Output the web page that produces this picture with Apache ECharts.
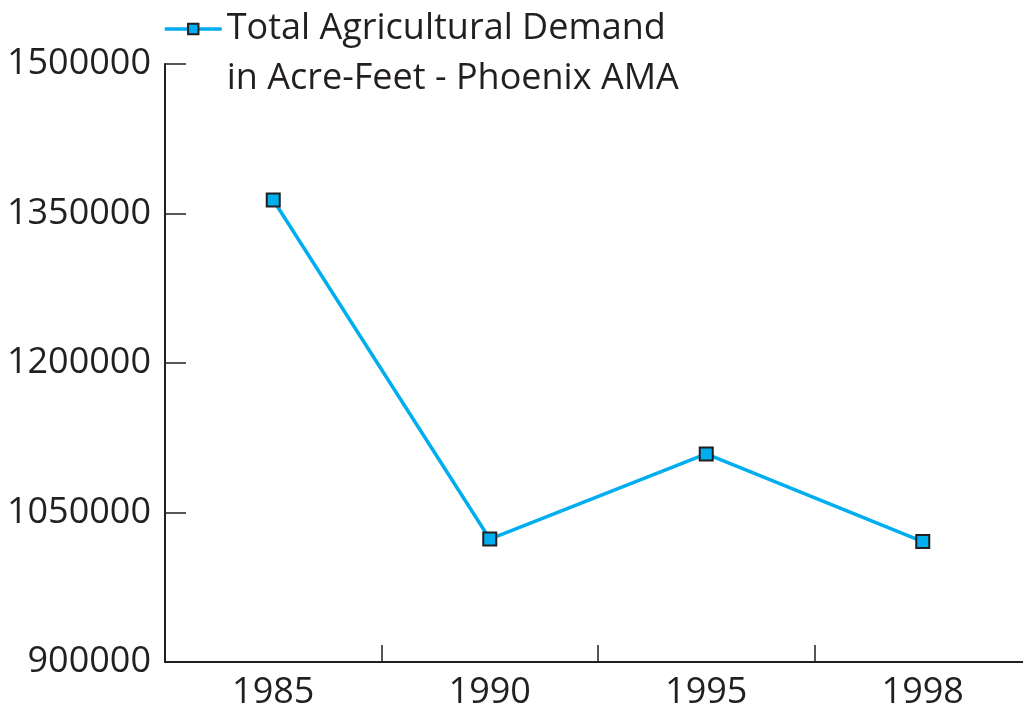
<!DOCTYPE html>
<html>
<head>
<meta charset="utf-8">
<script src="https://cdn.jsdelivr.net/npm/echarts@6/dist/echarts.min.js"></script>
<style>
  html, body { margin: 0; padding: 0; background: #fff; }
  #chart { width: 1023px; height: 706px; }
</style>
</head>
<body>
<div id="chart"></div>
<script>
// data
const years = ['1985', '1990', '1995', '1998']
const demand = [1363500, 1023400, 1108700, 1020900]
const seriesName = 'Total Agricultural Demand\nin Acre-Feet - Phoenix AMA'

const ink = '#231f20'
const cyan = '#00aeef'
const font = 'Open Sans'

const chart = echarts.init(document.getElementById('chart'))

const option = {
  animation: false,
  legend: {
    left: 163,
    top: -46,
    padding: 0,
    itemWidth: 57,
    itemHeight: 13,
    itemGap: 0,
    lineStyle: { width: 3.5 },
    // an empty first line keeps the icon level with "Total Agricultural Demand"
    formatter: (name) => '\n' + name,
    textStyle: {
      fontFamily: font,
      fontSize: 36,
      color: ink,
      lineHeight: 50,
      padding: [0, 0, 0, 0]
    },
    data: [seriesName]
  },
  grid: {
    left: 165,
    right: -8,
    top: 64,
    bottom: 44,
    outerBoundsMode: 'none'
  },
  xAxis: {
    type: 'category',
    data: years,
    boundaryGap: true,
    axisLine: { lineStyle: { color: ink, width: 2 } },
    axisTick: { show: true, inside: true, length: 17, lineStyle: { color: ink, width: 1.5 } },
    axisLabel: {
      margin: 13,
      fontFamily: font,
      fontSize: 36,
      color: ink
    }
  },
  yAxis: {
    type: 'value',
    min: 900000,
    max: 1500000,
    interval: 150000,
    splitLine: { show: false },
    axisLine: { show: true, lineStyle: { color: ink, width: 2 } },
    axisTick: { show: true, inside: true, length: 21, lineStyle: { color: ink, width: 1.5 } },
    axisLabel: {
      margin: 14,
      fontFamily: font,
      fontSize: 36,
      color: ink,
      formatter: (v) => String(v)
    }
  },
  series: [
    {
      name: seriesName,
      type: 'line',
      data: demand,
      symbol: 'rect',
      symbolSize: 13,
      showAllSymbol: true,
      lineStyle: { color: cyan, width: 3.5 },
      itemStyle: { color: cyan, borderColor: ink, borderWidth: 2 }
    }
  ]
}

chart.setOption(option)
</script>
</body>
</html>
